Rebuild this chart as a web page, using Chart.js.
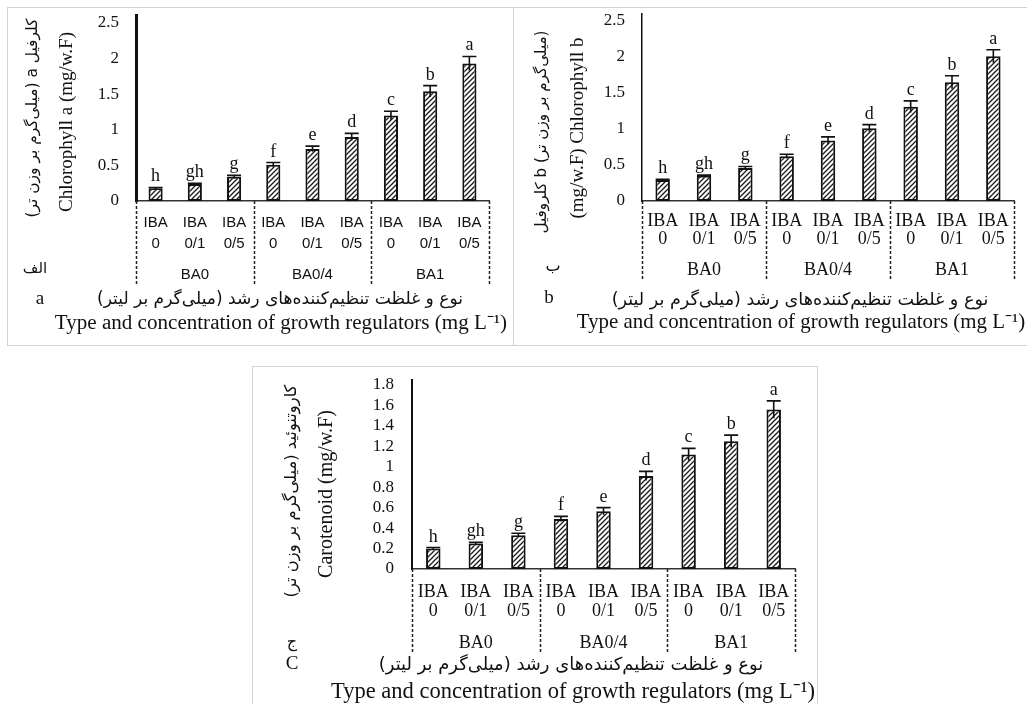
<!DOCTYPE html>
<html>
<head>
<meta charset="utf-8">
<script src="https://cdn.jsdelivr.net/npm/chart.js@4.4.1/dist/chart.umd.min.js"></script>
<style>
  html, body { margin: 0; padding: 0; background: #fff; width: 1027px; height: 704px; overflow: hidden; }
  canvas { position: absolute; outline: 1px solid #d2d2d2; }
</style>
</head>
<body>
<canvas id="chartA" width="505" height="337" style="left:8px;top:8px"></canvas>
<canvas id="chartB" width="520" height="337" style="left:514px;top:8px"></canvas>
<canvas id="chartC" width="564" height="337" style="left:253px;top:367px"></canvas>
<script>
// ---- data ----
const treatments = [
  ["IBA", "0"], ["IBA", "0/1"], ["IBA", "0/5"],
  ["IBA", "0"], ["IBA", "0/1"], ["IBA", "0/5"],
  ["IBA", "0"], ["IBA", "0/1"], ["IBA", "0/5"],
];
const baGroups = ["BA0", "BA0/4", "BA1"];
const sigLetters = ["h", "gh", "g", "f", "e", "d", "c", "b", "a"];

const chlA    = [0.18, 0.24, 0.34, 0.51, 0.73, 0.90, 1.20, 1.54, 1.93];
const chlAErr = [0.01, 0.01, 0.02, 0.03, 0.04, 0.05, 0.06, 0.08, 0.10];

const chlB    = [0.29, 0.35, 0.46, 0.62, 0.84, 1.01, 1.31, 1.65, 2.01];
const chlBErr = [0.01, 0.01, 0.02, 0.03, 0.05, 0.05, 0.08, 0.09, 0.09];

const carot    = [0.20, 0.25, 0.33, 0.49, 0.565, 0.91, 1.12, 1.25, 1.56];
const carotErr = [0.01, 0.01, 0.02, 0.025, 0.035, 0.045, 0.06, 0.06, 0.085];

// ---- text ----
const xTitleFa = "نوع و غلظت تنظیم‌کننده‌های رشد (میلی‌گرم بر لیتر)";
const xTitleEn = "Type and concentration of growth regulators (mg L⁻¹)";

const SERIF = "'Liberation Serif', 'Times New Roman', serif";
const SANS = "'Liberation Sans', Arial, sans-serif";
const FA = "'DejaVu Sans', sans-serif";

// diagonal hatch fill like the original bars
function hatchPattern() {
  const c = document.createElement("canvas");
  c.width = c.height = 5;
  const g = c.getContext("2d");
  g.fillStyle = "#fff";
  g.fillRect(0, 0, 5, 5);
  g.strokeStyle = "#1a1a1a";
  g.lineWidth = 1.3;
  g.beginPath();
  g.moveTo(0, 5); g.lineTo(5, 0);
  g.moveTo(-1, 1); g.lineTo(1, -1);
  g.moveTo(4, 6); g.lineTo(6, 4);
  g.stroke();
  return document.createElement("canvas").getContext("2d").createPattern(c, "repeat");
}

// error bars, significance letters, group separators, captions
const extras = {
  id: "extras",
  afterDatasetsDraw(chart, args, opts) {
    const { ctx, chartArea } = chart;
    const xs = chart.scales.x, ys = chart.scales.y, x2 = chart.scales.x2;
    const vals = chart.data.datasets[0].data;
    const meta = chart.getDatasetMeta(0);
    ctx.save();

    // dashed separators under the axis
    ctx.strokeStyle = "#222";
    ctx.lineWidth = 1.5;
    ctx.setLineDash([3, 2]);
    for (let k = 0; k <= baGroups.length; k++) {
      const px = Math.round(xs.getPixelForValue(k * 3 - 0.5)) + 0.5;
      ctx.beginPath();
      ctx.moveTo(px, chartArea.bottom);
      ctx.lineTo(px, x2.bottom);
      ctx.stroke();
    }
    ctx.setLineDash([]);

    // error bars + letters
    ctx.strokeStyle = "#111";
    ctx.fillStyle = "#111";
    ctx.lineWidth = 1.6;
    ctx.font = `18px ${SERIF}`;
    ctx.textAlign = "center";
    ctx.textBaseline = "alphabetic";
    meta.data.forEach((bar, i) => {
      const e = opts.errors[i];
      const top = ys.getPixelForValue(vals[i] + e);
      const bot = ys.getPixelForValue(vals[i] - e);
      ctx.beginPath();
      ctx.moveTo(bar.x, bot);
      ctx.lineTo(bar.x, top);
      ctx.moveTo(bar.x - 7, top);
      ctx.lineTo(bar.x + 7, top);
      ctx.stroke();
      ctx.fillText(sigLetters[i], bar.x, top - 6);
    });
    ctx.restore();
  },
  afterDraw(chart, args, opts) {
    const ctx = chart.ctx;
    for (const c of opts.captions || []) {
      ctx.save();
      ctx.translate(c.x, c.y);
      if (c.rot) ctx.rotate(-Math.PI / 2);
      ctx.direction = c.rtl ? "rtl" : "ltr";
      let size = c.size;
      ctx.font = `${size}px ${c.family}`;
      if (c.w) {
        size = size * c.w / ctx.measureText(c.t).width;
        ctx.font = `${size.toFixed(2)}px ${c.family}`;
      }
      ctx.fillStyle = "#111";
      ctx.textAlign = "center";
      ctx.textBaseline = "middle";
      ctx.fillText(c.t, 0, 0);
      ctx.restore();
    }
  },
};

function makePanel(id, p) {
  return new Chart(document.getElementById(id), {
    type: "bar",
    data: {
      labels: treatments,
      datasets: [{
        data: p.values,
        backgroundColor: hatchPattern(),
        borderColor: "#111",
        borderWidth: 2,
        borderSkipped: false,
        categoryPercentage: 1,
        barPercentage: p.barPct,
      }],
    },
    options: {
      responsive: false,
      animation: false,
      events: [],
      layout: { padding: p.padding },
      scales: {
        x: {
          type: "category",
          offset: true,
          grid: { display: false, drawTicks: false },
          border: { display: true, color: "#333", width: 1.5, dash: [3, 2] },
          ticks: { autoSkip: false, maxRotation: 0, minRotation: 0, padding: p.xPad, color: "#111", font: p.xFont },
          afterFit: (s) => { s.height = p.xH; s.paddingLeft = 0; s.paddingRight = 0; },
        },
        x2: {
          type: "category",
          position: "bottom",
          labels: baGroups,
          offset: true,
          grid: { display: false, drawTicks: false },
          border: { display: false },
          ticks: { autoSkip: false, maxRotation: 0, padding: p.x2Pad, color: "#111", font: p.x2Font },
          afterFit: (s) => { s.height = p.x2H; s.paddingLeft = 0; s.paddingRight = 0; },
        },
        y: {
          min: 0,
          max: p.yMax,
          grid: { display: false, drawTicks: false },
          border: { display: true, color: "#111", width: p.yBorder },
          ticks: {
            stepSize: p.step,
            autoSkip: false,
            includeBounds: false,
            padding: p.tickPad,
            color: "#111",
            font: { family: SERIF, size: 17, lineHeight: 1 },
            callback: (v) => String(Math.round(v * 100) / 100),
          },
          afterFit: (s) => { s.width = p.yWidth; s.paddingTop = 0; s.paddingBottom = 0; },
        },
      },
      plugins: {
        legend: { display: false },
        tooltip: { enabled: false },
        extras: { errors: p.errors, captions: p.captions },
      },
    },
    plugins: [extras],
  });
}

makePanel("chartA", {
  values: chlA, errors: chlAErr, barPct: 0.36,
  yMax: 2.612, step: 0.5, yWidth: 128, yBorder: 3, tickPad: 17,
  padding: { top: 7, right: 24, bottom: 59, left: 0 },
  xFont: { family: SANS, size: 15, lineHeight: 1.4 }, xPad: 11, xH: 55,
  x2Font: { family: SANS, size: 15, lineHeight: 1.4 }, x2Pad: 8, x2H: 30,
  captions: [
    { t: "کلرفیل a (میلی‌گرم بر وزن تر)", x: 25, y: 110, rot: true, rtl: true, size: 17, family: FA, w: 199 },
    { t: "Chlorophyll a (mg/w.F)", x: 59, y: 114, rot: true, size: 19, family: SERIF, w: 180 },
    { t: "الف", x: 27, y: 261, rtl: true, size: 15, family: FA },
    { t: "a", x: 32, y: 291, size: 19, family: SERIF },
    { t: xTitleFa, x: 272, y: 292, rtl: true, size: 16, family: FA, w: 366 },
    { t: xTitleEn, x: 273, y: 315, size: 19, family: SERIF, w: 452 },
  ],
});

makePanel("chartB", {
  values: chlB, errors: chlBErr, barPct: 0.35,
  yMax: 2.597, step: 0.5, yWidth: 128, yBorder: 1.5, tickPad: 17,
  padding: { top: 6, right: 20, bottom: 65, left: 0 },
  xFont: { family: SERIF, size: 18, lineHeight: 1.02 }, xPad: 11, xH: 50,
  x2Font: { family: SERIF, size: 18, lineHeight: 1.1 }, x2Pad: 9, x2H: 29,
  captions: [
    { t: "(میلی‌گرم بر وزن تر) b کلروفیل", x: 28, y: 124, rot: true, rtl: true, size: 17, family: FA, w: 203 },
    { t: "(mg/w.F) Chlorophyll b", x: 64, y: 120, rot: true, size: 19, family: SERIF, w: 181 },
    { t: "ب", x: 39, y: 259, rtl: true, size: 16, family: FA },
    { t: "b", x: 35, y: 290, size: 19, family: SERIF },
    { t: xTitleFa, x: 286, y: 292, rtl: true, size: 16, family: FA, w: 377 },
    { t: xTitleEn, x: 287, y: 315, size: 19, family: SERIF, w: 448 },
  ],
});

makePanel("chartC", {
  values: carot, errors: carotErr, barPct: 0.34,
  yMax: 1.849, step: 0.2, yWidth: 159, yBorder: 2, tickPad: 18,
  padding: { top: 13, right: 22, bottom: 51, left: 0 },
  xFont: { family: SERIF, size: 18, lineHeight: 1.1 }, xPad: 13, xH: 56,
  x2Font: { family: SERIF, size: 18, lineHeight: 1.1 }, x2Pad: 8, x2H: 28,
  captions: [
    { t: "کاروتنوئید (میلی‌گرم بر وزن تر)", x: 39, y: 124, rot: true, rtl: true, size: 17, family: FA, w: 213 },
    { t: "Carotenoid (mg/w.F)", x: 74, y: 127, rot: true, size: 19, family: SERIF, w: 168 },
    { t: "ج", x: 39, y: 276, rtl: true, size: 16, family: FA },
    { t: "C", x: 39, y: 297, size: 19, family: SERIF },
    { t: xTitleFa, x: 318, y: 298, rtl: true, size: 16, family: FA, w: 385 },
    { t: xTitleEn, x: 320, y: 325, size: 20, family: SERIF, w: 484 },
  ],
});
</script>
</body>
</html>
